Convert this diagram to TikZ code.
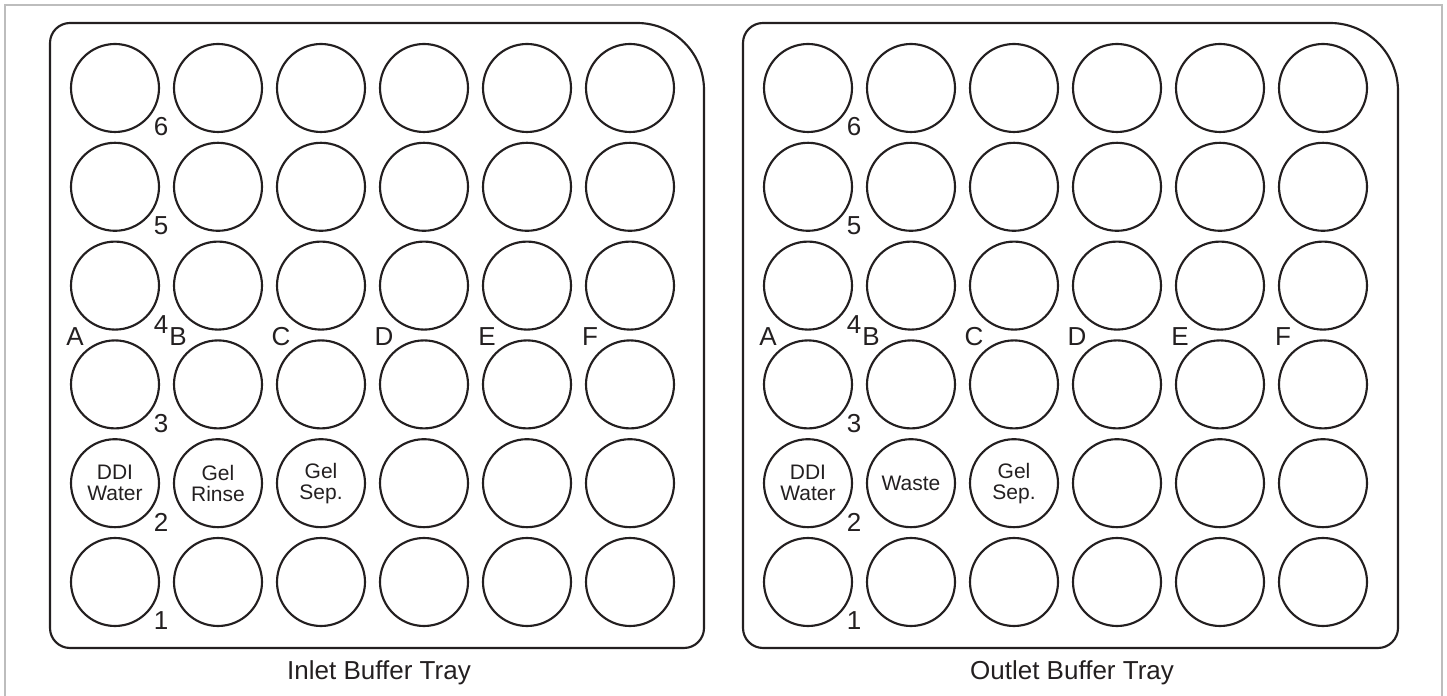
\documentclass[tikz,border=0pt]{standalone}
\usepackage{fontspec}
\setmainfont{Liberation Sans}
\usepackage{xcolor}
\usepackage{tikz}
\definecolor{ink}{HTML}{231F20}
\definecolor{framegray}{HTML}{BDBDBD}
\tikzset{
    tray/.style={draw=ink, line width=1.6pt},
    well/.style={draw=ink, circle, line width=1.6pt, minimum size=66pt,
    inner sep=0pt, outer sep=0pt},
    welltext/.style={font=\fontsize{15.75}{15.75}\selectfont, align=center,
    text=ink, inner sep=0pt},
    rowlabel/.style={font=\fontsize{19.5}{20}\selectfont, text=ink, inner sep=0pt},
    collabel/.style={font=\fontsize{19.5}{20}\selectfont, text=ink, inner sep=0pt},
    traytitle/.style={font=\fontsize{19.5}{20}\selectfont, text=ink, anchor=base},
}

\begin{document}
\begin{tikzpicture}[x=0.75pt, y=0.75pt]
            \useasboundingbox (0,0) rectangle (1447,696);
            \draw[framegray, line width=1.5pt] (5,0) -- (5,691) -- (1442,691) -- (1442,0);
            % --- inlet tray ---
            \draw[tray] (50,68) -- (50,653) arc[start angle=180, end angle=90, radius=20]
                -- (637,673) arc[start angle=90, end angle=0, radius=67]
                -- (704,68) arc[start angle=0, end angle=-90, radius=20]
                -- (70,48) arc[start angle=270, end angle=180, radius=20] -- cycle;
            \foreach \col [count=\i from 0] in {A,B,C,D,E,F}
                \foreach \row in {1,...,6}
                    \node[well] (in\col\row) at ({115+103*\i},{114+98.8*(\row-1)}) {};
            \node[rowlabel, xshift=34.5pt, yshift=-29.25pt] at (inA1) {1};
            \node[rowlabel, xshift=34.5pt, yshift=-29.25pt] at (inA2) {2};
            \node[rowlabel, xshift=34.5pt, yshift=-29.25pt] at (inA3) {3};
            \node[rowlabel, xshift=34.5pt, yshift=-29.25pt] at (inA4) {4};
            \node[rowlabel, xshift=34.5pt, yshift=-29.25pt] at (inA5) {5};
            \node[rowlabel, xshift=34.5pt, yshift=-29.25pt] at (inA6) {6};
            \node[collabel, xshift=-30pt, yshift=-38.25pt] at (inA4) {A};
            \node[collabel, xshift=-30pt, yshift=-38.25pt] at (inB4) {B};
            \node[collabel, xshift=-30pt, yshift=-38.25pt] at (inC4) {C};
            \node[collabel, xshift=-30pt, yshift=-38.25pt] at (inD4) {D};
            \node[collabel, xshift=-30pt, yshift=-38.25pt] at (inE4) {E};
            \node[collabel, xshift=-30pt, yshift=-38.25pt] at (inF4) {F};
            \node[welltext] at (inA2) {DDI\\Water};
            \node[welltext] at (inB2) {Gel\\Rinse};
            \node[welltext] at (inC2) {Gel\\Sep.};
            \node[traytitle] (intitle) at (379,16) {Inlet Buffer Tray};
            % --- outlet tray ---
            \draw[tray] (743,68) -- (743,653) arc[start angle=180, end angle=90, radius=20]
                -- (1330,673) arc[start angle=90, end angle=0, radius=68]
                -- (1398,68) arc[start angle=0, end angle=-90, radius=20]
                -- (763,48) arc[start angle=270, end angle=180, radius=20] -- cycle;
            \foreach \col [count=\i from 0] in {A,B,C,D,E,F}
                \foreach \row in {1,...,6}
                    \node[well] (out\col\row) at ({808+103*\i},{114+98.8*(\row-1)}) {};
            \node[rowlabel, xshift=34.5pt, yshift=-29.25pt] at (outA1) {1};
            \node[rowlabel, xshift=34.5pt, yshift=-29.25pt] at (outA2) {2};
            \node[rowlabel, xshift=34.5pt, yshift=-29.25pt] at (outA3) {3};
            \node[rowlabel, xshift=34.5pt, yshift=-29.25pt] at (outA4) {4};
            \node[rowlabel, xshift=34.5pt, yshift=-29.25pt] at (outA5) {5};
            \node[rowlabel, xshift=34.5pt, yshift=-29.25pt] at (outA6) {6};
            \node[collabel, xshift=-30pt, yshift=-38.25pt] at (outA4) {A};
            \node[collabel, xshift=-30pt, yshift=-38.25pt] at (outB4) {B};
            \node[collabel, xshift=-30pt, yshift=-38.25pt] at (outC4) {C};
            \node[collabel, xshift=-30pt, yshift=-38.25pt] at (outD4) {D};
            \node[collabel, xshift=-30pt, yshift=-38.25pt] at (outE4) {E};
            \node[collabel, xshift=-30pt, yshift=-38.25pt] at (outF4) {F};
            \node[welltext] at (outA2) {DDI\\Water};
            \node[welltext] at (outB2) {Waste};
            \node[welltext] at (outC2) {Gel\\Sep.};
            \node[traytitle] (outtitle) at (1072,16) {Outlet Buffer Tray};
        \end{tikzpicture}
\end{document}
